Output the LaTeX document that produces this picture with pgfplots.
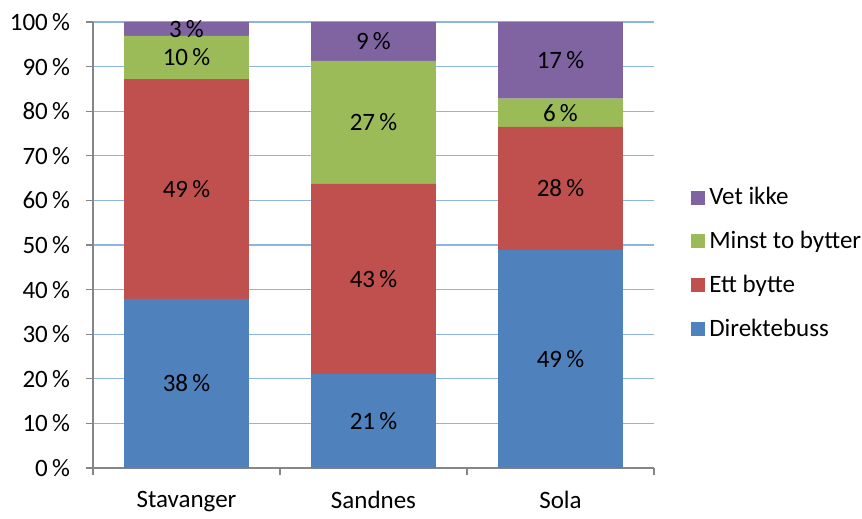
\documentclass[border=0pt]{standalone}
\usepackage{pgfplots}
\pgfplotsset{compat=1.18}
\usepackage{pgfplotstable}
\usepackage{fontspec}
\setmainfont{Carlito}
\definecolor{cblue}{HTML}{4F81BD}
\definecolor{cred}{HTML}{C0504D}
\definecolor{cgreen}{HTML}{9BBB59}
\definecolor{cpurple}{HTML}{8064A2}
\definecolor{cgrid}{HTML}{8EB4E3}
\definecolor{caxis}{HTML}{868686}
\pgfplotstableread{
x dir ett minst vet ldir lett lminst lvet
0 37.9 49.3 9.7 3.1 38 49 10 3
1 21.1 42.6 27.6 8.7 21 43 27 9
2 48.9 27.6 6.3 17.2 49 28 6 17
}\data
\pgfplotsset{
  seg/.style={
    fill=#1, draw=none,
    point meta=explicit symbolic,
    nodes near coords={\pgfplotspointmeta\,\%},
    every node near coord/.append style={anchor=center, font=\fontsize{12.5pt}{14pt}\selectfont, text=black},
  },
}
\begin{document}
\begin{tikzpicture}
\begin{axis}[
  scale only axis, width=280.5pt, height=223pt,
  ybar stacked, bar width=0.668,
  xmin=-0.5, xmax=2.5, ymin=0, ymax=100,
  xtick={-0.5,0.5,1.5,2.5}, xticklabels={},
  extra x ticks={0,1,2},
  extra x tick labels={Stavanger,Sandnes,Sola},
  extra x tick style={major tick length=0pt, xticklabel style={yshift=-8pt}},
  ytick={0,10,...,100},
  yticklabel={\pgfmathprintnumber{\tick}\,\%},
  /pgf/number format/assume math mode=true,
  yticklabel style={xshift=-4.5pt},
  tick label style={font=\fontsize{12.5pt}{14pt}\selectfont},
  tick align=outside, major tick length=3.5pt,
  tick style={caxis, line width=0.6pt},
  ymajorgrids, grid style={cgrid, line width=0.6pt},
  axis x line*=bottom, axis y line*=left,
  axis line style={caxis, line width=0.6pt, -},
  reverse legend,
  legend cell align=left,
  legend image code/.code={\fill[#1] (0pt,-3.5pt) rectangle (7pt,3.5pt);},
  legend style={at={(rel axis cs:1.055,0.459)}, anchor=west, draw=none, fill=none, overlay,
    font=\fontsize{12.5pt}{14pt}\selectfont, row sep=7.7pt},
]
\addplot[seg=cblue] table[x=x, y=dir, meta=ldir] {\data};
\addplot[seg=cred] table[x=x, y=ett, meta=lett] {\data};
\addplot[seg=cgreen] table[x=x, y=minst, meta=lminst] {\data};
\addplot[seg=cpurple] table[x=x, y=vet, meta=lvet] {\data};
\legend{Direktebuss, Ett bytte, Minst to bytter, Vet ikke}
\end{axis}
\useasboundingbox ([xshift=-46.5pt,yshift=-23pt]current axis.south west) rectangle ([xshift=104pt,yshift=11pt]current axis.north east);
\end{tikzpicture}
\end{document}
